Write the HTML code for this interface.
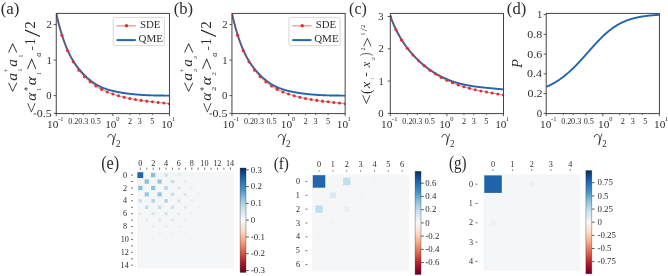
<!DOCTYPE html>
<html><head><meta charset="utf-8"><style>
html,body{margin:0;padding:0;background:#fff;}
svg{display:block;}
text{font-family:"Liberation Serif", serif;}
</style></head><body>
<svg xmlns="http://www.w3.org/2000/svg" width="668" height="276" viewBox="0 0 668 276" style="will-change:transform">
<rect width="668" height="276" fill="#fff"/>
<text font-size="10.0" fill="#2c2c2c" transform="matrix(1.69280,0,0,1.74251,0.656,14.490)">(a)</text>
<text font-size="10.0" fill="#2c2c2c" transform="matrix(1.66029,0,0,1.74251,173.670,14.490)">(b)</text>
<text font-size="10.0" fill="#2c2c2c" transform="matrix(1.59495,0,0,1.74251,349.099,14.490)">(c)</text>
<text font-size="10.0" fill="#2c2c2c" transform="matrix(1.66029,0,0,1.74251,506.870,14.490)">(d)</text>
<clipPath id="c56"><rect x="56.25" y="13.40" width="113.20" height="100.20"/></clipPath><g clip-path="url(#c56)">
<path d="M56.40,14.23 L56.97,16.64 L57.54,18.98 L58.10,21.25 L58.67,23.45 L59.24,25.59 L59.81,27.65 L60.37,29.65 L60.94,31.59 L61.51,33.47 L62.08,35.29 L62.65,37.05 L63.21,38.75 L63.78,40.39 L64.35,41.98 L64.92,43.52 L65.49,45.01 L66.05,46.45 L66.62,47.83 L67.19,49.18 L67.76,50.47 L68.32,51.73 L68.89,52.94 L69.46,54.11 L70.03,55.24 L70.60,56.33 L71.16,57.39 L71.73,58.41 L72.30,59.40 L72.87,60.36 L73.44,61.28 L74.00,62.18 L74.57,63.05 L75.14,63.89 L75.71,64.71 L76.27,65.51 L76.84,66.28 L77.41,67.04 L77.98,67.78 L78.55,68.50 L79.11,69.20 L79.68,69.89 L80.25,70.57 L80.82,71.23 L81.38,71.88 L81.95,72.51 L82.52,73.13 L83.09,73.74 L83.66,74.34 L84.22,74.92 L84.79,75.49 L85.36,76.04 L85.93,76.59 L86.50,77.12 L87.06,77.64 L87.63,78.14 L88.20,78.64 L88.77,79.12 L89.33,79.59 L89.90,80.05 L90.47,80.50 L91.04,80.94 L91.61,81.36 L92.17,81.78 L92.74,82.18 L93.31,82.57 L93.88,82.96 L94.45,83.33 L95.01,83.69 L95.58,84.05 L96.15,84.39 L96.72,84.72 L97.28,85.05 L97.85,85.36 L98.42,85.67 L98.99,85.96 L99.56,86.25 L100.12,86.53 L100.69,86.80 L101.26,87.06 L101.83,87.32 L102.39,87.56 L102.96,87.80 L103.53,88.03 L104.10,88.26 L104.67,88.48 L105.23,88.69 L105.80,88.89 L106.37,89.09 L106.94,89.28 L107.51,89.47 L108.07,89.65 L108.64,89.82 L109.21,89.99 L109.78,90.15 L110.34,90.31 L110.91,90.46 L111.48,90.61 L112.05,90.75 L112.62,90.89 L113.18,91.03 L113.75,91.16 L114.32,91.29 L114.89,91.41 L115.46,91.53 L116.02,91.65 L116.59,91.76 L117.16,91.87 L117.73,91.98 L118.29,92.09 L118.86,92.19 L119.43,92.30 L120.00,92.40 L120.57,92.49 L121.13,92.59 L121.70,92.69 L122.27,92.78 L122.84,92.87 L123.41,92.96 L123.97,93.04 L124.54,93.13 L125.11,93.21 L125.68,93.29 L126.24,93.37 L126.81,93.45 L127.38,93.52 L127.95,93.60 L128.52,93.67 L129.08,93.74 L129.65,93.81 L130.22,93.87 L130.79,93.94 L131.35,94.00 L131.92,94.07 L132.49,94.13 L133.06,94.18 L133.63,94.24 L134.19,94.30 L134.76,94.35 L135.33,94.41 L135.90,94.46 L136.47,94.51 L137.03,94.55 L137.60,94.60 L138.17,94.65 L138.74,94.69 L139.30,94.73 L139.87,94.78 L140.44,94.82 L141.01,94.86 L141.58,94.89 L142.14,94.93 L142.71,94.96 L143.28,95.00 L143.85,95.03 L144.42,95.06 L144.98,95.09 L145.55,95.12 L146.12,95.15 L146.69,95.18 L147.25,95.20 L147.82,95.23 L148.39,95.25 L148.96,95.28 L149.53,95.30 L150.09,95.32 L150.66,95.34 L151.23,95.36 L151.80,95.37 L152.36,95.39 L152.93,95.41 L153.50,95.42 L154.07,95.44 L154.64,95.45 L155.20,95.46 L155.77,95.48 L156.34,95.49 L156.91,95.50 L157.48,95.51 L158.04,95.52 L158.61,95.53 L159.18,95.53 L159.75,95.54 L160.31,95.55 L160.88,95.55 L161.45,95.56 L162.02,95.56 L162.59,95.57 L163.15,95.57 L163.72,95.57 L164.29,95.58 L164.86,95.58 L165.43,95.58 L165.99,95.58 L166.56,95.58 L167.13,95.58 L167.70,95.58 L168.26,95.58 L168.83,95.58 L169.40,95.58" fill="none" stroke="#2166ac" stroke-width="1.9" stroke-linejoin="round" stroke-linecap="butt" />
<path d="M56.25,13.47 L56.82,16.01 L57.39,18.48 L57.96,20.86 L58.53,23.16 L59.09,25.39 L59.66,27.54 L60.23,29.62 L60.80,31.62 L61.37,33.56 L61.94,35.44 L62.51,37.24 L63.08,38.99 L63.64,40.67 L64.21,42.30 L64.78,43.87 L65.35,45.38 L65.92,46.84 L66.49,48.25 L67.06,49.62 L67.63,50.93 L68.20,52.20 L68.76,53.43 L69.33,54.62 L69.90,55.77 L70.47,56.88 L71.04,57.96 L71.61,59.01 L72.18,60.02 L72.75,61.01 L73.32,61.97 L73.88,62.91 L74.45,63.82 L75.02,64.71 L75.59,65.57 L76.16,66.41 L76.73,67.23 L77.30,68.03 L77.87,68.81 L78.43,69.57 L79.00,70.31 L79.57,71.03 L80.14,71.74 L80.71,72.42 L81.28,73.09 L81.85,73.75 L82.42,74.39 L82.99,75.01 L83.55,75.62 L84.12,76.22 L84.69,76.80 L85.26,77.38 L85.83,77.94 L86.40,78.48 L86.97,79.02 L87.54,79.55 L88.11,80.06 L88.67,80.56 L89.24,81.05 L89.81,81.53 L90.38,82.00 L90.95,82.46 L91.52,82.91 L92.09,83.35 L92.66,83.78 L93.22,84.20 L93.79,84.61 L94.36,85.01 L94.93,85.40 L95.50,85.78 L96.07,86.16 L96.64,86.52 L97.21,86.88 L97.78,87.23 L98.34,87.57 L98.91,87.90 L99.48,88.22 L100.05,88.54 L100.62,88.85 L101.19,89.15 L101.76,89.45 L102.33,89.74 L102.90,90.02 L103.46,90.29 L104.03,90.56 L104.60,90.83 L105.17,91.08 L105.74,91.33 L106.31,91.58 L106.88,91.82 L107.45,92.05 L108.01,92.28 L108.58,92.51 L109.15,92.73 L109.72,92.95 L110.29,93.16 L110.86,93.37 L111.43,93.57 L112.00,93.77 L112.57,93.97 L113.13,94.16 L113.70,94.35 L114.27,94.53 L114.84,94.72 L115.41,94.90 L115.98,95.07 L116.55,95.25 L117.12,95.42 L117.69,95.59 L118.25,95.75 L118.82,95.91 L119.39,96.07 L119.96,96.23 L120.53,96.38 L121.10,96.53 L121.67,96.68 L122.24,96.82 L122.80,96.96 L123.37,97.10 L123.94,97.24 L124.51,97.37 L125.08,97.51 L125.65,97.64 L126.22,97.76 L126.79,97.89 L127.36,98.01 L127.92,98.13 L128.49,98.25 L129.06,98.37 L129.63,98.48 L130.20,98.59 L130.77,98.70 L131.34,98.81 L131.91,98.92 L132.48,99.02 L133.04,99.12 L133.61,99.22 L134.18,99.32 L134.75,99.42 L135.32,99.51 L135.89,99.61 L136.46,99.70 L137.03,99.79 L137.59,99.88 L138.16,99.96 L138.73,100.05 L139.30,100.13 L139.87,100.22 L140.44,100.30 L141.01,100.38 L141.58,100.46 L142.15,100.54 L142.71,100.61 L143.28,100.69 L143.85,100.76 L144.42,100.84 L144.99,100.91 L145.56,100.98 L146.13,101.05 L146.70,101.12 L147.27,101.19 L147.83,101.26 L148.40,101.33 L148.97,101.40 L149.54,101.46 L150.11,101.53 L150.68,101.60 L151.25,101.66 L151.82,101.73 L152.38,101.79 L152.95,101.85 L153.52,101.92 L154.09,101.98 L154.66,102.04 L155.23,102.11 L155.80,102.17 L156.37,102.23 L156.94,102.30 L157.50,102.36 L158.07,102.42 L158.64,102.48 L159.21,102.55 L159.78,102.61 L160.35,102.67 L160.92,102.74 L161.49,102.80 L162.06,102.86 L162.62,102.93 L163.19,102.99 L163.76,103.06 L164.33,103.12 L164.90,103.19 L165.47,103.26 L166.04,103.33 L166.61,103.39 L167.17,103.46 L167.74,103.53 L168.31,103.60 L168.88,103.68 L169.45,103.75" fill="none" stroke="#da3439" stroke-width="1.1" stroke-linejoin="round" stroke-linecap="butt" stroke-opacity="0.55"/>
<circle cx="56.25" cy="13.47" r="1.55" fill="#da3439"/>
<circle cx="61.91" cy="35.34" r="1.55" fill="#da3439"/>
<circle cx="67.57" cy="50.80" r="1.55" fill="#da3439"/>
<circle cx="73.23" cy="61.83" r="1.55" fill="#da3439"/>
<circle cx="78.89" cy="70.17" r="1.55" fill="#da3439"/>
<circle cx="84.55" cy="76.66" r="1.55" fill="#da3439"/>
<circle cx="90.21" cy="81.86" r="1.55" fill="#da3439"/>
<circle cx="95.87" cy="86.03" r="1.55" fill="#da3439"/>
<circle cx="101.53" cy="89.33" r="1.55" fill="#da3439"/>
<circle cx="107.19" cy="91.95" r="1.55" fill="#da3439"/>
<circle cx="112.85" cy="94.06" r="1.55" fill="#da3439"/>
<circle cx="118.51" cy="95.82" r="1.55" fill="#da3439"/>
<circle cx="124.17" cy="97.29" r="1.55" fill="#da3439"/>
<circle cx="129.83" cy="98.52" r="1.55" fill="#da3439"/>
<circle cx="135.49" cy="99.54" r="1.55" fill="#da3439"/>
<circle cx="141.15" cy="100.40" r="1.55" fill="#da3439"/>
<circle cx="146.81" cy="101.14" r="1.55" fill="#da3439"/>
<circle cx="152.47" cy="101.80" r="1.55" fill="#da3439"/>
<circle cx="158.13" cy="102.43" r="1.55" fill="#da3439"/>
<circle cx="163.79" cy="103.06" r="1.55" fill="#da3439"/>
<circle cx="169.45" cy="103.75" r="1.55" fill="#da3439"/>
</g>
<rect x="56.25" y="13.40" width="113.20" height="100.20" fill="none" stroke="#3c3c3c" stroke-width="0.95"/>
<line x1="56.25" y1="113.60" x2="56.25" y2="116.20" stroke="#3c3c3c" stroke-width="0.85" />
<line x1="112.85" y1="113.60" x2="112.85" y2="116.20" stroke="#3c3c3c" stroke-width="0.85" />
<line x1="169.45" y1="113.60" x2="169.45" y2="116.20" stroke="#3c3c3c" stroke-width="0.85" />
<line x1="73.29" y1="113.60" x2="73.29" y2="115.20" stroke="#3c3c3c" stroke-width="0.7" />
<line x1="83.26" y1="113.60" x2="83.26" y2="115.20" stroke="#3c3c3c" stroke-width="0.7" />
<line x1="95.81" y1="113.60" x2="95.81" y2="115.20" stroke="#3c3c3c" stroke-width="0.7" />
<line x1="129.89" y1="113.60" x2="129.89" y2="115.20" stroke="#3c3c3c" stroke-width="0.7" />
<line x1="139.86" y1="113.60" x2="139.86" y2="115.20" stroke="#3c3c3c" stroke-width="0.7" />
<line x1="152.41" y1="113.60" x2="152.41" y2="115.20" stroke="#3c3c3c" stroke-width="0.7" />
<text x="47.057" y="128.000" font-size="11.3" fill="#2c2c2c">10</text>
<text x="58.009" y="121.200" font-size="6.5" fill="#2c2c2c">-</text>
<text x="60.179" y="121.200" font-size="6.5" fill="#2c2c2c">1</text>
<text x="105.157" y="128.000" font-size="11.3" fill="#2c2c2c">10</text>
<text x="116.202" y="121.200" font-size="6.5" fill="#2c2c2c">0</text>
<text x="161.157" y="128.000" font-size="11.3" fill="#2c2c2c">10</text>
<text x="171.879" y="121.200" font-size="6.5" fill="#2c2c2c">1</text>
<text font-size="7.4" fill="#2c2c2c" transform="matrix(1.1,0,0,1,68.270,123.500)">0.2</text>
<text font-size="7.4" fill="#2c2c2c" transform="matrix(1.1,0,0,1,78.172,123.500)">0.3</text>
<text font-size="7.4" fill="#2c2c2c" transform="matrix(1.1,0,0,1,90.728,123.500)">0.5</text>
<text font-size="7.4" fill="#2c2c2c" transform="matrix(1.1,0,0,1,127.899,123.500)">2</text>
<text font-size="7.4" fill="#2c2c2c" transform="matrix(1.1,0,0,1,137.784,123.500)">3</text>
<text font-size="7.4" fill="#2c2c2c" transform="matrix(1.1,0,0,1,150.299,123.500)">5</text>
<line x1="53.65" y1="24.60" x2="56.25" y2="24.60" stroke="#3c3c3c" stroke-width="0.85" />
<text x="46.490" y="28.200" font-size="10.7" fill="#2c2c2c">2</text>
<line x1="53.65" y1="60.10" x2="56.25" y2="60.10" stroke="#3c3c3c" stroke-width="0.85" />
<text x="46.543" y="63.700" font-size="10.7" fill="#2c2c2c">1</text>
<line x1="53.65" y1="95.60" x2="56.25" y2="95.60" stroke="#3c3c3c" stroke-width="0.85" />
<text x="46.308" y="99.200" font-size="10.7" fill="#2c2c2c">0</text>
<line x1="53.65" y1="113.35" x2="56.25" y2="113.35" stroke="#3c3c3c" stroke-width="0.85" />
<text font-size="10.7" fill="#2c2c2c" transform="matrix(1.12,0,0,1,36.738,116.950)">0.5</text>
<line x1="33.69" y1="113.95" x2="36.19" y2="113.95" stroke="#2c2c2c" stroke-width="0.9" />
<rect x="113.20" y="17.4" width="51.2" height="28.2" rx="1.5" fill="#fff" fill-opacity="0.8" stroke="#d3d3d3" stroke-width="0.9"/>
<line x1="116.60" y1="25.80" x2="135.80" y2="25.80" stroke="#da3439" stroke-width="1.5" stroke-opacity="0.45"/>
<circle cx="126.50" cy="25.8" r="1.7" fill="#da3439"/>
<line x1="116.60" y1="40.10" x2="135.80" y2="40.10" stroke="#2166ac" stroke-width="2.0" />
<text font-size="10.0" fill="#2c2c2c" transform="matrix(1.08324,0,0,0.93767,139.975,28.108)">SDE</text>
<text font-size="10.0" fill="#2c2c2c" transform="matrix(1.10259,0,0,0.98275,138.448,42.107)">QME</text>
<text font-size="10.0" fill="#2c2c2c" transform="matrix(0,-1.95559,1.82413,0,18.857,92.774)">&lt;</text>
<text font-size="10.0" font-style="italic" fill="#2c2c2c" transform="matrix(0,-1.57183,1.41385,0,16.655,80.668)">a</text>
<text font-size="10.0" fill="#2c2c2c" transform="matrix(0,-0.70699,0.64116,0,8.349,72.517)">†</text>
<text font-size="10.0" fill="#2c2c2c" transform="matrix(0,-0.59650,0.59077,0,22.450,71.474)">1</text>
<text font-size="10.0" font-style="italic" fill="#2c2c2c" transform="matrix(0,-1.52560,1.41385,0,16.655,66.854)">a</text>
<text font-size="10.0" fill="#2c2c2c" transform="matrix(0,-0.53969,0.59077,0,22.550,57.624)">1</text>
<text font-size="10.0" fill="#2c2c2c" transform="matrix(0,-1.97708,1.84486,0,19.076,53.604)">&gt;</text>
<text font-size="10.0" fill="#2c2c2c" transform="matrix(0,-1.93410,1.74121,0,37.481,113.163)">&lt;</text>
<text font-size="10.0" font-style="italic" fill="#2c2c2c" transform="matrix(0,-1.54382,1.41098,0,35.755,100.760)">α</text>
<text font-size="10.0" fill="#2c2c2c" transform="matrix(0,-0.74383,1.09081,0,30.842,90.863)">*</text>
<text font-size="10.0" fill="#2c2c2c" transform="matrix(0,-0.53969,0.60592,0,41.450,90.724)">1</text>
<text font-size="10.0" font-style="italic" fill="#2c2c2c" transform="matrix(0,-1.62198,1.41098,0,35.655,85.283)">α</text>
<text font-size="10.0" fill="#2c2c2c" transform="matrix(0,-0.53969,0.62107,0,41.450,75.024)">1</text>
<text font-size="10.0" fill="#2c2c2c" transform="matrix(0,-2.25645,1.78267,0,37.719,70.346)">&gt;</text>
<text font-size="10.0" font-style="italic" fill="#2c2c2c" transform="matrix(0,-0.78168,0.82999,0,41.315,56.733)">α</text>
<text font-size="10.0" fill="#2c2c2c" transform="matrix(0,-1.30887,1.07085,0,34.973,50.536)">-</text>
<text font-size="10.0" fill="#2c2c2c" transform="matrix(0,-1.33503,1.36331,0,35.100,45.073)">1</text>
<text font-size="10.0" fill="#2c2c2c" transform="matrix(0,-2.77146,2.37688,0,39.868,37.100)">/</text>
<text font-size="10.0" fill="#2c2c2c" transform="matrix(0,-1.49671,1.35929,0,35.100,28.758)">2</text>
<clipPath id="c231"><rect x="231.95" y="13.40" width="113.20" height="100.20"/></clipPath><g clip-path="url(#c231)">
<path d="M232.10,14.23 L232.67,16.64 L233.24,18.98 L233.80,21.25 L234.37,23.45 L234.94,25.59 L235.51,27.65 L236.07,29.65 L236.64,31.59 L237.21,33.47 L237.78,35.29 L238.35,37.05 L238.91,38.75 L239.48,40.39 L240.05,41.98 L240.62,43.52 L241.19,45.01 L241.75,46.45 L242.32,47.83 L242.89,49.18 L243.46,50.47 L244.02,51.73 L244.59,52.94 L245.16,54.11 L245.73,55.24 L246.30,56.33 L246.86,57.39 L247.43,58.41 L248.00,59.40 L248.57,60.36 L249.14,61.28 L249.70,62.18 L250.27,63.05 L250.84,63.89 L251.41,64.71 L251.97,65.51 L252.54,66.28 L253.11,67.04 L253.68,67.78 L254.25,68.50 L254.81,69.20 L255.38,69.89 L255.95,70.57 L256.52,71.23 L257.08,71.88 L257.65,72.51 L258.22,73.13 L258.79,73.74 L259.36,74.34 L259.92,74.92 L260.49,75.49 L261.06,76.04 L261.63,76.59 L262.20,77.12 L262.76,77.64 L263.33,78.14 L263.90,78.64 L264.47,79.12 L265.03,79.59 L265.60,80.05 L266.17,80.50 L266.74,80.94 L267.31,81.36 L267.87,81.78 L268.44,82.18 L269.01,82.57 L269.58,82.96 L270.15,83.33 L270.71,83.69 L271.28,84.05 L271.85,84.39 L272.42,84.72 L272.98,85.05 L273.55,85.36 L274.12,85.67 L274.69,85.96 L275.26,86.25 L275.82,86.53 L276.39,86.80 L276.96,87.06 L277.53,87.32 L278.09,87.56 L278.66,87.80 L279.23,88.03 L279.80,88.26 L280.37,88.48 L280.93,88.69 L281.50,88.89 L282.07,89.09 L282.64,89.28 L283.21,89.47 L283.77,89.65 L284.34,89.82 L284.91,89.99 L285.48,90.15 L286.04,90.31 L286.61,90.46 L287.18,90.61 L287.75,90.75 L288.32,90.89 L288.88,91.03 L289.45,91.16 L290.02,91.29 L290.59,91.41 L291.16,91.53 L291.72,91.65 L292.29,91.76 L292.86,91.87 L293.43,91.98 L293.99,92.09 L294.56,92.19 L295.13,92.30 L295.70,92.40 L296.27,92.49 L296.83,92.59 L297.40,92.69 L297.97,92.78 L298.54,92.87 L299.11,92.96 L299.67,93.04 L300.24,93.13 L300.81,93.21 L301.38,93.29 L301.94,93.37 L302.51,93.45 L303.08,93.52 L303.65,93.60 L304.22,93.67 L304.78,93.74 L305.35,93.81 L305.92,93.87 L306.49,93.94 L307.05,94.00 L307.62,94.07 L308.19,94.13 L308.76,94.18 L309.33,94.24 L309.89,94.30 L310.46,94.35 L311.03,94.41 L311.60,94.46 L312.17,94.51 L312.73,94.55 L313.30,94.60 L313.87,94.65 L314.44,94.69 L315.00,94.73 L315.57,94.78 L316.14,94.82 L316.71,94.86 L317.28,94.89 L317.84,94.93 L318.41,94.96 L318.98,95.00 L319.55,95.03 L320.12,95.06 L320.68,95.09 L321.25,95.12 L321.82,95.15 L322.39,95.18 L322.95,95.20 L323.52,95.23 L324.09,95.25 L324.66,95.28 L325.23,95.30 L325.79,95.32 L326.36,95.34 L326.93,95.36 L327.50,95.37 L328.06,95.39 L328.63,95.41 L329.20,95.42 L329.77,95.44 L330.34,95.45 L330.90,95.46 L331.47,95.48 L332.04,95.49 L332.61,95.50 L333.18,95.51 L333.74,95.52 L334.31,95.53 L334.88,95.53 L335.45,95.54 L336.01,95.55 L336.58,95.55 L337.15,95.56 L337.72,95.56 L338.29,95.57 L338.85,95.57 L339.42,95.57 L339.99,95.58 L340.56,95.58 L341.13,95.58 L341.69,95.58 L342.26,95.58 L342.83,95.58 L343.40,95.58 L343.96,95.58 L344.53,95.58 L345.10,95.58" fill="none" stroke="#2166ac" stroke-width="1.9" stroke-linejoin="round" stroke-linecap="butt" />
<path d="M231.95,13.47 L232.52,16.01 L233.09,18.48 L233.66,20.86 L234.23,23.16 L234.79,25.39 L235.36,27.54 L235.93,29.62 L236.50,31.62 L237.07,33.56 L237.64,35.44 L238.21,37.24 L238.78,38.99 L239.34,40.67 L239.91,42.30 L240.48,43.87 L241.05,45.38 L241.62,46.84 L242.19,48.25 L242.76,49.62 L243.33,50.93 L243.90,52.20 L244.46,53.43 L245.03,54.62 L245.60,55.77 L246.17,56.88 L246.74,57.96 L247.31,59.01 L247.88,60.02 L248.45,61.01 L249.02,61.97 L249.58,62.91 L250.15,63.82 L250.72,64.71 L251.29,65.57 L251.86,66.41 L252.43,67.23 L253.00,68.03 L253.57,68.81 L254.13,69.57 L254.70,70.31 L255.27,71.03 L255.84,71.74 L256.41,72.42 L256.98,73.09 L257.55,73.75 L258.12,74.39 L258.69,75.01 L259.25,75.62 L259.82,76.22 L260.39,76.80 L260.96,77.38 L261.53,77.94 L262.10,78.48 L262.67,79.02 L263.24,79.55 L263.81,80.06 L264.37,80.56 L264.94,81.05 L265.51,81.53 L266.08,82.00 L266.65,82.46 L267.22,82.91 L267.79,83.35 L268.36,83.78 L268.92,84.20 L269.49,84.61 L270.06,85.01 L270.63,85.40 L271.20,85.78 L271.77,86.16 L272.34,86.52 L272.91,86.88 L273.48,87.23 L274.04,87.57 L274.61,87.90 L275.18,88.22 L275.75,88.54 L276.32,88.85 L276.89,89.15 L277.46,89.45 L278.03,89.74 L278.60,90.02 L279.16,90.29 L279.73,90.56 L280.30,90.83 L280.87,91.08 L281.44,91.33 L282.01,91.58 L282.58,91.82 L283.15,92.05 L283.71,92.28 L284.28,92.51 L284.85,92.73 L285.42,92.95 L285.99,93.16 L286.56,93.37 L287.13,93.57 L287.70,93.77 L288.27,93.97 L288.83,94.16 L289.40,94.35 L289.97,94.53 L290.54,94.72 L291.11,94.90 L291.68,95.07 L292.25,95.25 L292.82,95.42 L293.39,95.59 L293.95,95.75 L294.52,95.91 L295.09,96.07 L295.66,96.23 L296.23,96.38 L296.80,96.53 L297.37,96.68 L297.94,96.82 L298.50,96.96 L299.07,97.10 L299.64,97.24 L300.21,97.37 L300.78,97.51 L301.35,97.64 L301.92,97.76 L302.49,97.89 L303.06,98.01 L303.62,98.13 L304.19,98.25 L304.76,98.37 L305.33,98.48 L305.90,98.59 L306.47,98.70 L307.04,98.81 L307.61,98.92 L308.18,99.02 L308.74,99.12 L309.31,99.22 L309.88,99.32 L310.45,99.42 L311.02,99.51 L311.59,99.61 L312.16,99.70 L312.73,99.79 L313.29,99.88 L313.86,99.96 L314.43,100.05 L315.00,100.13 L315.57,100.22 L316.14,100.30 L316.71,100.38 L317.28,100.46 L317.85,100.54 L318.41,100.61 L318.98,100.69 L319.55,100.76 L320.12,100.84 L320.69,100.91 L321.26,100.98 L321.83,101.05 L322.40,101.12 L322.97,101.19 L323.53,101.26 L324.10,101.33 L324.67,101.40 L325.24,101.46 L325.81,101.53 L326.38,101.60 L326.95,101.66 L327.52,101.73 L328.08,101.79 L328.65,101.85 L329.22,101.92 L329.79,101.98 L330.36,102.04 L330.93,102.11 L331.50,102.17 L332.07,102.23 L332.64,102.30 L333.20,102.36 L333.77,102.42 L334.34,102.48 L334.91,102.55 L335.48,102.61 L336.05,102.67 L336.62,102.74 L337.19,102.80 L337.76,102.86 L338.32,102.93 L338.89,102.99 L339.46,103.06 L340.03,103.12 L340.60,103.19 L341.17,103.26 L341.74,103.33 L342.31,103.39 L342.87,103.46 L343.44,103.53 L344.01,103.60 L344.58,103.68 L345.15,103.75" fill="none" stroke="#da3439" stroke-width="1.1" stroke-linejoin="round" stroke-linecap="butt" stroke-opacity="0.55"/>
<circle cx="231.95" cy="13.47" r="1.55" fill="#da3439"/>
<circle cx="237.61" cy="35.34" r="1.55" fill="#da3439"/>
<circle cx="243.27" cy="50.80" r="1.55" fill="#da3439"/>
<circle cx="248.93" cy="61.83" r="1.55" fill="#da3439"/>
<circle cx="254.59" cy="70.17" r="1.55" fill="#da3439"/>
<circle cx="260.25" cy="76.66" r="1.55" fill="#da3439"/>
<circle cx="265.91" cy="81.86" r="1.55" fill="#da3439"/>
<circle cx="271.57" cy="86.03" r="1.55" fill="#da3439"/>
<circle cx="277.23" cy="89.33" r="1.55" fill="#da3439"/>
<circle cx="282.89" cy="91.95" r="1.55" fill="#da3439"/>
<circle cx="288.55" cy="94.06" r="1.55" fill="#da3439"/>
<circle cx="294.21" cy="95.82" r="1.55" fill="#da3439"/>
<circle cx="299.87" cy="97.29" r="1.55" fill="#da3439"/>
<circle cx="305.53" cy="98.52" r="1.55" fill="#da3439"/>
<circle cx="311.19" cy="99.54" r="1.55" fill="#da3439"/>
<circle cx="316.85" cy="100.40" r="1.55" fill="#da3439"/>
<circle cx="322.51" cy="101.14" r="1.55" fill="#da3439"/>
<circle cx="328.17" cy="101.80" r="1.55" fill="#da3439"/>
<circle cx="333.83" cy="102.43" r="1.55" fill="#da3439"/>
<circle cx="339.49" cy="103.06" r="1.55" fill="#da3439"/>
<circle cx="345.15" cy="103.75" r="1.55" fill="#da3439"/>
</g>
<rect x="231.95" y="13.40" width="113.20" height="100.20" fill="none" stroke="#3c3c3c" stroke-width="0.95"/>
<line x1="231.95" y1="113.60" x2="231.95" y2="116.20" stroke="#3c3c3c" stroke-width="0.85" />
<line x1="288.55" y1="113.60" x2="288.55" y2="116.20" stroke="#3c3c3c" stroke-width="0.85" />
<line x1="345.15" y1="113.60" x2="345.15" y2="116.20" stroke="#3c3c3c" stroke-width="0.85" />
<line x1="248.99" y1="113.60" x2="248.99" y2="115.20" stroke="#3c3c3c" stroke-width="0.7" />
<line x1="258.96" y1="113.60" x2="258.96" y2="115.20" stroke="#3c3c3c" stroke-width="0.7" />
<line x1="271.51" y1="113.60" x2="271.51" y2="115.20" stroke="#3c3c3c" stroke-width="0.7" />
<line x1="305.59" y1="113.60" x2="305.59" y2="115.20" stroke="#3c3c3c" stroke-width="0.7" />
<line x1="315.56" y1="113.60" x2="315.56" y2="115.20" stroke="#3c3c3c" stroke-width="0.7" />
<line x1="328.11" y1="113.60" x2="328.11" y2="115.20" stroke="#3c3c3c" stroke-width="0.7" />
<text x="222.757" y="128.000" font-size="11.3" fill="#2c2c2c">10</text>
<text x="233.709" y="121.200" font-size="6.5" fill="#2c2c2c">-</text>
<text x="235.879" y="121.200" font-size="6.5" fill="#2c2c2c">1</text>
<text x="280.857" y="128.000" font-size="11.3" fill="#2c2c2c">10</text>
<text x="291.902" y="121.200" font-size="6.5" fill="#2c2c2c">0</text>
<text x="336.857" y="128.000" font-size="11.3" fill="#2c2c2c">10</text>
<text x="347.579" y="121.200" font-size="6.5" fill="#2c2c2c">1</text>
<text font-size="7.4" fill="#2c2c2c" transform="matrix(1.1,0,0,1,243.970,123.500)">0.2</text>
<text font-size="7.4" fill="#2c2c2c" transform="matrix(1.1,0,0,1,253.872,123.500)">0.3</text>
<text font-size="7.4" fill="#2c2c2c" transform="matrix(1.1,0,0,1,266.428,123.500)">0.5</text>
<text font-size="7.4" fill="#2c2c2c" transform="matrix(1.1,0,0,1,303.599,123.500)">2</text>
<text font-size="7.4" fill="#2c2c2c" transform="matrix(1.1,0,0,1,313.484,123.500)">3</text>
<text font-size="7.4" fill="#2c2c2c" transform="matrix(1.1,0,0,1,325.999,123.500)">5</text>
<line x1="229.35" y1="24.60" x2="231.95" y2="24.60" stroke="#3c3c3c" stroke-width="0.85" />
<text x="222.190" y="28.200" font-size="10.7" fill="#2c2c2c">2</text>
<line x1="229.35" y1="60.10" x2="231.95" y2="60.10" stroke="#3c3c3c" stroke-width="0.85" />
<text x="222.243" y="63.700" font-size="10.7" fill="#2c2c2c">1</text>
<line x1="229.35" y1="95.60" x2="231.95" y2="95.60" stroke="#3c3c3c" stroke-width="0.85" />
<text x="222.008" y="99.200" font-size="10.7" fill="#2c2c2c">0</text>
<line x1="229.35" y1="113.35" x2="231.95" y2="113.35" stroke="#3c3c3c" stroke-width="0.85" />
<text font-size="10.7" fill="#2c2c2c" transform="matrix(1.12,0,0,1,212.438,116.950)">0.5</text>
<line x1="209.39" y1="113.95" x2="211.89" y2="113.95" stroke="#2c2c2c" stroke-width="0.9" />
<rect x="288.90" y="17.4" width="51.2" height="28.2" rx="1.5" fill="#fff" fill-opacity="0.8" stroke="#d3d3d3" stroke-width="0.9"/>
<line x1="292.30" y1="25.80" x2="311.50" y2="25.80" stroke="#da3439" stroke-width="1.5" stroke-opacity="0.45"/>
<circle cx="302.20" cy="25.8" r="1.7" fill="#da3439"/>
<line x1="292.30" y1="40.10" x2="311.50" y2="40.10" stroke="#2166ac" stroke-width="2.0" />
<text font-size="10.0" fill="#2c2c2c" transform="matrix(1.08324,0,0,0.93767,315.675,28.108)">SDE</text>
<text font-size="10.0" fill="#2c2c2c" transform="matrix(1.10259,0,0,0.98275,314.148,42.107)">QME</text>
<text font-size="10.0" fill="#2c2c2c" transform="matrix(0,-1.95559,1.82413,0,194.557,92.774)">&lt;</text>
<text font-size="10.0" font-style="italic" fill="#2c2c2c" transform="matrix(0,-1.57183,1.41385,0,192.355,80.668)">a</text>
<text font-size="10.0" fill="#2c2c2c" transform="matrix(0,-0.70699,0.64116,0,184.049,72.517)">†</text>
<text font-size="10.0" fill="#2c2c2c" transform="matrix(0,-0.74836,0.45310,0,196.600,72.129)">2</text>
<text font-size="10.0" font-style="italic" fill="#2c2c2c" transform="matrix(0,-1.52560,1.41385,0,192.355,66.854)">a</text>
<text font-size="10.0" fill="#2c2c2c" transform="matrix(0,-0.72341,0.45310,0,196.600,59.318)">2</text>
<text font-size="10.0" fill="#2c2c2c" transform="matrix(0,-1.97708,1.84486,0,194.776,53.604)">&gt;</text>
<text font-size="10.0" fill="#2c2c2c" transform="matrix(0,-1.93410,1.74121,0,213.181,113.163)">&lt;</text>
<text font-size="10.0" font-style="italic" fill="#2c2c2c" transform="matrix(0,-1.54382,1.41098,0,211.455,100.760)">α</text>
<text font-size="10.0" fill="#2c2c2c" transform="matrix(0,-0.74383,1.09081,0,206.542,90.863)">*</text>
<text font-size="10.0" fill="#2c2c2c" transform="matrix(0,-0.82319,0.57392,0,216.300,90.862)">2</text>
<text font-size="10.0" font-style="italic" fill="#2c2c2c" transform="matrix(0,-1.62198,1.41098,0,211.355,85.283)">α</text>
<text font-size="10.0" fill="#2c2c2c" transform="matrix(0,-0.67352,0.57392,0,216.300,75.496)">2</text>
<text font-size="10.0" fill="#2c2c2c" transform="matrix(0,-2.25645,1.78267,0,213.419,70.346)">&gt;</text>
<text font-size="10.0" font-style="italic" fill="#2c2c2c" transform="matrix(0,-0.78168,0.82999,0,217.015,56.733)">α</text>
<text font-size="10.0" fill="#2c2c2c" transform="matrix(0,-1.30887,1.07085,0,210.673,50.536)">-</text>
<text font-size="10.0" fill="#2c2c2c" transform="matrix(0,-1.33503,1.36331,0,210.800,45.073)">1</text>
<text font-size="10.0" fill="#2c2c2c" transform="matrix(0,-2.77146,2.37688,0,215.568,37.100)">/</text>
<text font-size="10.0" fill="#2c2c2c" transform="matrix(0,-1.49671,1.35929,0,210.800,28.758)">2</text>
<clipPath id="c390"><rect x="390.30" y="13.40" width="113.20" height="100.20"/></clipPath><g clip-path="url(#c390)">
<path d="M390.60,16.94 L391.17,18.41 L391.74,19.85 L392.30,21.26 L392.87,22.63 L393.44,23.96 L394.01,25.26 L394.57,26.52 L395.14,27.76 L395.71,28.96 L396.28,30.13 L396.85,31.27 L397.41,32.38 L397.98,33.47 L398.55,34.53 L399.12,35.56 L399.69,36.56 L400.25,37.54 L400.82,38.50 L401.39,39.44 L401.96,40.35 L402.52,41.24 L403.09,42.11 L403.66,42.96 L404.23,43.79 L404.80,44.61 L405.36,45.41 L405.93,46.19 L406.50,46.95 L407.07,47.71 L407.64,48.45 L408.20,49.17 L408.77,49.88 L409.34,50.59 L409.91,51.28 L410.47,51.95 L411.04,52.62 L411.61,53.27 L412.18,53.92 L412.75,54.55 L413.31,55.18 L413.88,55.79 L414.45,56.39 L415.02,56.99 L415.58,57.57 L416.15,58.15 L416.72,58.71 L417.29,59.27 L417.86,59.82 L418.42,60.37 L418.99,60.90 L419.56,61.43 L420.13,61.95 L420.70,62.46 L421.26,62.97 L421.83,63.46 L422.40,63.96 L422.97,64.44 L423.53,64.92 L424.10,65.39 L424.67,65.85 L425.24,66.31 L425.81,66.76 L426.37,67.20 L426.94,67.64 L427.51,68.07 L428.08,68.49 L428.65,68.91 L429.21,69.32 L429.78,69.72 L430.35,70.12 L430.92,70.51 L431.48,70.89 L432.05,71.27 L432.62,71.65 L433.19,72.01 L433.76,72.37 L434.32,72.73 L434.89,73.08 L435.46,73.42 L436.03,73.76 L436.59,74.09 L437.16,74.42 L437.73,74.74 L438.30,75.06 L438.87,75.37 L439.43,75.67 L440.00,75.97 L440.57,76.26 L441.14,76.55 L441.71,76.84 L442.27,77.12 L442.84,77.39 L443.41,77.66 L443.98,77.92 L444.54,78.18 L445.11,78.44 L445.68,78.69 L446.25,78.93 L446.82,79.17 L447.38,79.41 L447.95,79.64 L448.52,79.87 L449.09,80.09 L449.66,80.31 L450.22,80.52 L450.79,80.73 L451.36,80.93 L451.93,81.14 L452.49,81.33 L453.06,81.53 L453.63,81.72 L454.20,81.90 L454.77,82.08 L455.33,82.26 L455.90,82.43 L456.47,82.60 L457.04,82.77 L457.61,82.93 L458.17,83.09 L458.74,83.25 L459.31,83.40 L459.88,83.55 L460.44,83.70 L461.01,83.84 L461.58,83.98 L462.15,84.12 L462.72,84.25 L463.28,84.38 L463.85,84.51 L464.42,84.63 L464.99,84.76 L465.55,84.88 L466.12,84.99 L466.69,85.11 L467.26,85.22 L467.83,85.33 L468.39,85.43 L468.96,85.54 L469.53,85.64 L470.10,85.74 L470.67,85.83 L471.23,85.93 L471.80,86.02 L472.37,86.11 L472.94,86.20 L473.50,86.28 L474.07,86.37 L474.64,86.45 L475.21,86.53 L475.78,86.61 L476.34,86.68 L476.91,86.76 L477.48,86.83 L478.05,86.91 L478.62,86.98 L479.18,87.05 L479.75,87.11 L480.32,87.18 L480.89,87.24 L481.45,87.31 L482.02,87.37 L482.59,87.43 L483.16,87.49 L483.73,87.55 L484.29,87.61 L484.86,87.67 L485.43,87.73 L486.00,87.78 L486.56,87.84 L487.13,87.89 L487.70,87.95 L488.27,88.00 L488.84,88.05 L489.40,88.11 L489.97,88.16 L490.54,88.21 L491.11,88.26 L491.68,88.31 L492.24,88.36 L492.81,88.42 L493.38,88.47 L493.95,88.52 L494.51,88.57 L495.08,88.62 L495.65,88.67 L496.22,88.72 L496.79,88.78 L497.35,88.83 L497.92,88.88 L498.49,88.93 L499.06,88.99 L499.63,89.04 L500.19,89.10 L500.76,89.15 L501.33,89.21 L501.90,89.26 L502.46,89.32 L503.03,89.38 L503.60,89.44" fill="none" stroke="#2166ac" stroke-width="1.9" stroke-linejoin="round" stroke-linecap="butt" />
<path d="M390.30,16.29 L390.87,17.82 L391.44,19.31 L392.01,20.76 L392.58,22.17 L393.14,23.55 L393.71,24.88 L394.28,26.18 L394.85,27.45 L395.42,28.68 L395.99,29.87 L396.56,31.04 L397.13,32.17 L397.69,33.28 L398.26,34.35 L398.83,35.40 L399.40,36.42 L399.97,37.41 L400.54,38.38 L401.11,39.32 L401.68,40.25 L402.25,41.14 L402.81,42.02 L403.38,42.88 L403.95,43.71 L404.52,44.53 L405.09,45.33 L405.66,46.11 L406.23,46.88 L406.80,47.64 L407.37,48.38 L407.93,49.10 L408.50,49.82 L409.07,50.52 L409.64,51.22 L410.21,51.90 L410.78,52.57 L411.35,53.23 L411.92,53.87 L412.48,54.51 L413.05,55.14 L413.62,55.76 L414.19,56.37 L414.76,56.97 L415.33,57.56 L415.90,58.14 L416.47,58.71 L417.04,59.28 L417.60,59.84 L418.17,60.39 L418.74,60.93 L419.31,61.47 L419.88,61.99 L420.45,62.52 L421.02,63.03 L421.59,63.54 L422.16,64.04 L422.72,64.53 L423.29,65.02 L423.86,65.50 L424.43,65.98 L425.00,66.45 L425.57,66.91 L426.14,67.36 L426.71,67.81 L427.27,68.26 L427.84,68.69 L428.41,69.13 L428.98,69.55 L429.55,69.97 L430.12,70.38 L430.69,70.79 L431.26,71.19 L431.83,71.59 L432.39,71.98 L432.96,72.37 L433.53,72.75 L434.10,73.12 L434.67,73.49 L435.24,73.85 L435.81,74.21 L436.38,74.57 L436.95,74.92 L437.51,75.26 L438.08,75.60 L438.65,75.93 L439.22,76.26 L439.79,76.58 L440.36,76.90 L440.93,77.22 L441.50,77.53 L442.06,77.84 L442.63,78.14 L443.20,78.43 L443.77,78.73 L444.34,79.02 L444.91,79.30 L445.48,79.58 L446.05,79.86 L446.62,80.13 L447.18,80.40 L447.75,80.66 L448.32,80.93 L448.89,81.18 L449.46,81.44 L450.03,81.69 L450.60,81.93 L451.17,82.17 L451.74,82.41 L452.30,82.65 L452.87,82.88 L453.44,83.11 L454.01,83.34 L454.58,83.56 L455.15,83.78 L455.72,83.99 L456.29,84.21 L456.85,84.41 L457.42,84.62 L457.99,84.82 L458.56,85.02 L459.13,85.22 L459.70,85.42 L460.27,85.61 L460.84,85.80 L461.41,85.98 L461.97,86.16 L462.54,86.34 L463.11,86.52 L463.68,86.70 L464.25,86.87 L464.82,87.04 L465.39,87.21 L465.96,87.37 L466.53,87.53 L467.09,87.69 L467.66,87.85 L468.23,88.01 L468.80,88.16 L469.37,88.31 L469.94,88.46 L470.51,88.61 L471.08,88.75 L471.64,88.89 L472.21,89.04 L472.78,89.17 L473.35,89.31 L473.92,89.45 L474.49,89.58 L475.06,89.71 L475.63,89.84 L476.20,89.97 L476.76,90.10 L477.33,90.22 L477.90,90.35 L478.47,90.47 L479.04,90.59 L479.61,90.71 L480.18,90.83 L480.75,90.94 L481.32,91.06 L481.88,91.17 L482.45,91.28 L483.02,91.40 L483.59,91.51 L484.16,91.62 L484.73,91.72 L485.30,91.83 L485.87,91.94 L486.43,92.04 L487.00,92.15 L487.57,92.25 L488.14,92.36 L488.71,92.46 L489.28,92.56 L489.85,92.66 L490.42,92.76 L490.99,92.86 L491.55,92.96 L492.12,93.06 L492.69,93.16 L493.26,93.26 L493.83,93.36 L494.40,93.46 L494.97,93.56 L495.54,93.65 L496.11,93.75 L496.67,93.85 L497.24,93.95 L497.81,94.04 L498.38,94.14 L498.95,94.24 L499.52,94.34 L500.09,94.43 L500.66,94.53 L501.22,94.63 L501.79,94.73 L502.36,94.83 L502.93,94.93 L503.50,95.03" fill="none" stroke="#da3439" stroke-width="1.1" stroke-linejoin="round" stroke-linecap="butt" stroke-opacity="0.55"/>
<circle cx="390.30" cy="16.29" r="1.55" fill="#da3439"/>
<circle cx="395.96" cy="29.82" r="1.55" fill="#da3439"/>
<circle cx="401.62" cy="40.15" r="1.55" fill="#da3439"/>
<circle cx="407.28" cy="48.27" r="1.55" fill="#da3439"/>
<circle cx="412.94" cy="55.02" r="1.55" fill="#da3439"/>
<circle cx="418.60" cy="60.80" r="1.55" fill="#da3439"/>
<circle cx="424.26" cy="65.84" r="1.55" fill="#da3439"/>
<circle cx="429.92" cy="70.24" r="1.55" fill="#da3439"/>
<circle cx="435.58" cy="74.07" r="1.55" fill="#da3439"/>
<circle cx="441.24" cy="77.39" r="1.55" fill="#da3439"/>
<circle cx="446.90" cy="80.27" r="1.55" fill="#da3439"/>
<circle cx="452.56" cy="82.75" r="1.55" fill="#da3439"/>
<circle cx="458.22" cy="84.90" r="1.55" fill="#da3439"/>
<circle cx="463.88" cy="86.76" r="1.55" fill="#da3439"/>
<circle cx="469.54" cy="88.36" r="1.55" fill="#da3439"/>
<circle cx="475.20" cy="89.74" r="1.55" fill="#da3439"/>
<circle cx="480.86" cy="90.97" r="1.55" fill="#da3439"/>
<circle cx="486.52" cy="92.06" r="1.55" fill="#da3439"/>
<circle cx="492.18" cy="93.07" r="1.55" fill="#da3439"/>
<circle cx="497.84" cy="94.05" r="1.55" fill="#da3439"/>
<circle cx="503.50" cy="95.03" r="1.55" fill="#da3439"/>
</g>
<rect x="390.30" y="13.40" width="113.20" height="100.20" fill="none" stroke="#3c3c3c" stroke-width="0.95"/>
<line x1="390.30" y1="113.60" x2="390.30" y2="116.20" stroke="#3c3c3c" stroke-width="0.85" />
<line x1="446.90" y1="113.60" x2="446.90" y2="116.20" stroke="#3c3c3c" stroke-width="0.85" />
<line x1="503.50" y1="113.60" x2="503.50" y2="116.20" stroke="#3c3c3c" stroke-width="0.85" />
<line x1="407.34" y1="113.60" x2="407.34" y2="115.20" stroke="#3c3c3c" stroke-width="0.7" />
<line x1="417.31" y1="113.60" x2="417.31" y2="115.20" stroke="#3c3c3c" stroke-width="0.7" />
<line x1="429.86" y1="113.60" x2="429.86" y2="115.20" stroke="#3c3c3c" stroke-width="0.7" />
<line x1="463.94" y1="113.60" x2="463.94" y2="115.20" stroke="#3c3c3c" stroke-width="0.7" />
<line x1="473.91" y1="113.60" x2="473.91" y2="115.20" stroke="#3c3c3c" stroke-width="0.7" />
<line x1="486.46" y1="113.60" x2="486.46" y2="115.20" stroke="#3c3c3c" stroke-width="0.7" />
<text x="381.107" y="128.000" font-size="11.3" fill="#2c2c2c">10</text>
<text x="392.059" y="121.200" font-size="6.5" fill="#2c2c2c">-</text>
<text x="394.229" y="121.200" font-size="6.5" fill="#2c2c2c">1</text>
<text x="439.207" y="128.000" font-size="11.3" fill="#2c2c2c">10</text>
<text x="450.252" y="121.200" font-size="6.5" fill="#2c2c2c">0</text>
<text x="495.207" y="128.000" font-size="11.3" fill="#2c2c2c">10</text>
<text x="505.929" y="121.200" font-size="6.5" fill="#2c2c2c">1</text>
<text font-size="7.4" fill="#2c2c2c" transform="matrix(1.1,0,0,1,402.320,123.500)">0.2</text>
<text font-size="7.4" fill="#2c2c2c" transform="matrix(1.1,0,0,1,412.222,123.500)">0.3</text>
<text font-size="7.4" fill="#2c2c2c" transform="matrix(1.1,0,0,1,424.778,123.500)">0.5</text>
<text font-size="7.4" fill="#2c2c2c" transform="matrix(1.1,0,0,1,461.949,123.500)">2</text>
<text font-size="7.4" fill="#2c2c2c" transform="matrix(1.1,0,0,1,471.834,123.500)">3</text>
<text font-size="7.4" fill="#2c2c2c" transform="matrix(1.1,0,0,1,484.349,123.500)">5</text>
<line x1="387.70" y1="113.40" x2="390.30" y2="113.40" stroke="#3c3c3c" stroke-width="0.85" />
<text x="378.358" y="117.000" font-size="10.7" fill="#2c2c2c">0</text>
<line x1="387.70" y1="81.10" x2="390.30" y2="81.10" stroke="#3c3c3c" stroke-width="0.85" />
<text x="378.593" y="84.700" font-size="10.7" fill="#2c2c2c">1</text>
<line x1="387.70" y1="48.80" x2="390.30" y2="48.80" stroke="#3c3c3c" stroke-width="0.85" />
<text x="378.540" y="52.400" font-size="10.7" fill="#2c2c2c">2</text>
<line x1="387.70" y1="16.50" x2="390.30" y2="16.50" stroke="#3c3c3c" stroke-width="0.85" />
<text x="378.368" y="20.100" font-size="10.7" fill="#2c2c2c">3</text>
<text font-size="10.0" fill="#2c2c2c" transform="matrix(0,-1.82665,1.61684,0,372.268,104.710)">&lt;</text>
<text font-size="10.0" fill="#2c2c2c" transform="matrix(0,-1.36274,1.54400,0,370.613,93.899)">(</text>
<text font-size="10.0" font-style="italic" fill="#2c2c2c" transform="matrix(0,-1.47082,1.30723,0,370.200,88.220)">x</text>
<text font-size="10.0" fill="#2c2c2c" transform="matrix(0,-0.42607,0.42414,0,374.150,79.724)">1</text>
<text font-size="10.0" fill="#2c2c2c" transform="matrix(0,-1.38586,1.20471,0,369.138,76.764)">-</text>
<text font-size="10.0" font-style="italic" fill="#2c2c2c" transform="matrix(0,-1.27025,1.24187,0,370.400,67.345)">x</text>
<text font-size="10.0" fill="#2c2c2c" transform="matrix(0,-0.74836,0.45310,0,374.800,60.829)">2</text>
<text font-size="10.0" fill="#2c2c2c" transform="matrix(0,-0.97338,1.40062,0,370.118,55.914)">)</text>
<text font-size="10.0" fill="#2c2c2c" transform="matrix(0,-0.59868,0.63434,0,365.100,50.463)">2</text>
<text font-size="10.0" fill="#2c2c2c" transform="matrix(0,-1.78367,1.72049,0,372.763,47.206)">&gt;</text>
<text font-size="10.0" fill="#2c2c2c" transform="matrix(0,-0.48288,0.54533,0,364.950,35.274)">1</text>
<text font-size="10.0" fill="#2c2c2c" transform="matrix(0,-1.11578,0.74745,0,366.527,31.300)">/</text>
<text font-size="10.0" fill="#2c2c2c" transform="matrix(0,-0.59868,0.57392,0,364.700,27.663)">2</text>
<clipPath id="c546"><rect x="546.20" y="13.40" width="113.20" height="100.20"/></clipPath><g clip-path="url(#c546)">
<path d="M546.20,87.00 L546.77,86.74 L547.34,86.48 L547.91,86.22 L548.48,85.95 L549.04,85.67 L549.61,85.39 L550.18,85.10 L550.75,84.81 L551.32,84.51 L551.89,84.21 L552.46,83.90 L553.03,83.58 L553.59,83.26 L554.16,82.93 L554.73,82.60 L555.30,82.26 L555.87,81.92 L556.44,81.56 L557.01,81.20 L557.58,80.84 L558.15,80.47 L558.71,80.09 L559.28,79.71 L559.85,79.31 L560.42,78.92 L560.99,78.51 L561.56,78.10 L562.13,77.68 L562.70,77.26 L563.27,76.83 L563.83,76.39 L564.40,75.94 L564.97,75.49 L565.54,75.03 L566.11,74.56 L566.68,74.09 L567.25,73.61 L567.82,73.12 L568.38,72.63 L568.95,72.13 L569.52,71.62 L570.09,71.11 L570.66,70.59 L571.23,70.06 L571.80,69.53 L572.37,68.99 L572.94,68.45 L573.50,67.89 L574.07,67.34 L574.64,66.77 L575.21,66.20 L575.78,65.63 L576.35,65.05 L576.92,64.46 L577.49,63.87 L578.06,63.27 L578.62,62.67 L579.19,62.06 L579.76,61.45 L580.33,60.84 L580.90,60.22 L581.47,59.60 L582.04,58.97 L582.61,58.34 L583.17,57.71 L583.74,57.08 L584.31,56.44 L584.88,55.80 L585.45,55.16 L586.02,54.52 L586.59,53.87 L587.16,53.23 L587.73,52.58 L588.29,51.94 L588.86,51.29 L589.43,50.65 L590.00,50.00 L590.57,49.36 L591.14,48.72 L591.71,48.07 L592.28,47.44 L592.85,46.80 L593.41,46.16 L593.98,45.53 L594.55,44.91 L595.12,44.28 L595.69,43.66 L596.26,43.04 L596.83,42.43 L597.40,41.83 L597.96,41.22 L598.53,40.63 L599.10,40.03 L599.67,39.45 L600.24,38.87 L600.81,38.30 L601.38,37.73 L601.95,37.17 L602.52,36.62 L603.08,36.07 L603.65,35.53 L604.22,35.00 L604.79,34.48 L605.36,33.96 L605.93,33.45 L606.50,32.96 L607.07,32.46 L607.64,31.98 L608.20,31.50 L608.77,31.04 L609.34,30.58 L609.91,30.13 L610.48,29.69 L611.05,29.26 L611.62,28.83 L612.19,28.42 L612.75,28.01 L613.32,27.61 L613.89,27.22 L614.46,26.84 L615.03,26.47 L615.60,26.10 L616.17,25.74 L616.74,25.40 L617.31,25.06 L617.87,24.72 L618.44,24.40 L619.01,24.09 L619.58,23.78 L620.15,23.48 L620.72,23.18 L621.29,22.90 L621.86,22.62 L622.43,22.35 L622.99,22.09 L623.56,21.83 L624.13,21.58 L624.70,21.34 L625.27,21.11 L625.84,20.88 L626.41,20.65 L626.98,20.44 L627.54,20.23 L628.11,20.02 L628.68,19.83 L629.25,19.63 L629.82,19.45 L630.39,19.27 L630.96,19.09 L631.53,18.92 L632.10,18.76 L632.66,18.60 L633.23,18.44 L633.80,18.29 L634.37,18.14 L634.94,18.00 L635.51,17.86 L636.08,17.73 L636.65,17.60 L637.22,17.48 L637.78,17.36 L638.35,17.24 L638.92,17.13 L639.49,17.02 L640.06,16.91 L640.63,16.81 L641.20,16.71 L641.77,16.62 L642.33,16.52 L642.90,16.43 L643.47,16.35 L644.04,16.26 L644.61,16.18 L645.18,16.10 L645.75,16.03 L646.32,15.95 L646.89,15.88 L647.45,15.81 L648.02,15.75 L648.59,15.68 L649.16,15.62 L649.73,15.56 L650.30,15.50 L650.87,15.45 L651.44,15.39 L652.01,15.34 L652.57,15.29 L653.14,15.24 L653.71,15.20 L654.28,15.15 L654.85,15.11 L655.42,15.06 L655.99,15.02 L656.56,14.98 L657.12,14.95 L657.69,14.91 L658.26,14.87 L658.83,14.84 L659.40,14.81" fill="none" stroke="#2166ac" stroke-width="1.9" stroke-linejoin="round" stroke-linecap="butt" />
</g>
<rect x="546.20" y="13.40" width="113.20" height="100.20" fill="none" stroke="#3c3c3c" stroke-width="0.95"/>
<line x1="546.20" y1="113.60" x2="546.20" y2="116.20" stroke="#3c3c3c" stroke-width="0.85" />
<line x1="602.80" y1="113.60" x2="602.80" y2="116.20" stroke="#3c3c3c" stroke-width="0.85" />
<line x1="659.40" y1="113.60" x2="659.40" y2="116.20" stroke="#3c3c3c" stroke-width="0.85" />
<line x1="563.24" y1="113.60" x2="563.24" y2="115.20" stroke="#3c3c3c" stroke-width="0.7" />
<line x1="573.21" y1="113.60" x2="573.21" y2="115.20" stroke="#3c3c3c" stroke-width="0.7" />
<line x1="585.76" y1="113.60" x2="585.76" y2="115.20" stroke="#3c3c3c" stroke-width="0.7" />
<line x1="619.84" y1="113.60" x2="619.84" y2="115.20" stroke="#3c3c3c" stroke-width="0.7" />
<line x1="629.81" y1="113.60" x2="629.81" y2="115.20" stroke="#3c3c3c" stroke-width="0.7" />
<line x1="642.36" y1="113.60" x2="642.36" y2="115.20" stroke="#3c3c3c" stroke-width="0.7" />
<text x="540.007" y="128.000" font-size="11.3" fill="#2c2c2c">10</text>
<text x="550.959" y="121.200" font-size="6.5" fill="#2c2c2c">-</text>
<text x="553.129" y="121.200" font-size="6.5" fill="#2c2c2c">1</text>
<text x="598.107" y="128.000" font-size="11.3" fill="#2c2c2c">10</text>
<text x="609.152" y="121.200" font-size="6.5" fill="#2c2c2c">0</text>
<text x="654.107" y="128.000" font-size="11.3" fill="#2c2c2c">10</text>
<text x="664.829" y="121.200" font-size="6.5" fill="#2c2c2c">1</text>
<text font-size="7.4" fill="#2c2c2c" transform="matrix(1.1,0,0,1,561.220,123.500)">0.2</text>
<text font-size="7.4" fill="#2c2c2c" transform="matrix(1.1,0,0,1,571.122,123.500)">0.3</text>
<text font-size="7.4" fill="#2c2c2c" transform="matrix(1.1,0,0,1,583.678,123.500)">0.5</text>
<text font-size="7.4" fill="#2c2c2c" transform="matrix(1.1,0,0,1,620.849,123.500)">2</text>
<text font-size="7.4" fill="#2c2c2c" transform="matrix(1.1,0,0,1,630.734,123.500)">3</text>
<text font-size="7.4" fill="#2c2c2c" transform="matrix(1.1,0,0,1,643.249,123.500)">5</text>
<line x1="543.60" y1="113.40" x2="546.20" y2="113.40" stroke="#3c3c3c" stroke-width="0.85" />
<text x="536.858" y="117.000" font-size="10.7" fill="#2c2c2c">0</text>
<line x1="543.60" y1="93.64" x2="546.20" y2="93.64" stroke="#3c3c3c" stroke-width="0.85" />
<text font-size="10.7" fill="#2c2c2c" transform="matrix(1.12,0,0,1,527.481,97.240)">0.2</text>
<line x1="543.60" y1="73.88" x2="546.20" y2="73.88" stroke="#3c3c3c" stroke-width="0.85" />
<text font-size="10.7" fill="#2c2c2c" transform="matrix(1.12,0,0,1,527.007,77.480)">0.4</text>
<line x1="543.60" y1="54.12" x2="546.20" y2="54.12" stroke="#3c3c3c" stroke-width="0.85" />
<text font-size="10.7" fill="#2c2c2c" transform="matrix(1.12,0,0,1,527.177,57.720)">0.6</text>
<line x1="543.60" y1="34.36" x2="546.20" y2="34.36" stroke="#3c3c3c" stroke-width="0.85" />
<text font-size="10.7" fill="#2c2c2c" transform="matrix(1.12,0,0,1,527.276,37.960)">0.8</text>
<line x1="543.60" y1="14.60" x2="546.20" y2="14.60" stroke="#3c3c3c" stroke-width="0.85" />
<text x="537.093" y="18.200" font-size="10.7" fill="#2c2c2c">1</text>
<text font-size="10.0" font-style="italic" fill="#2c2c2c" transform="matrix(0,-1.47253,1.42031,0,522.300,67.921)">P</text>
<g transform="translate(0.00,0)" fill="none" stroke="#2c2c2c" stroke-linecap="round"><path d="M107.9,137.0 C108.5,135.0 109.6,134.4 110.6,134.4 C112.2,134.4 113.2,136.0 113.7,139.6" stroke-width="0.95"/><path d="M115.6,134.0 C114.9,135.9 114.3,137.8 113.7,139.6" stroke-width="0.8"/><path d="M113.7,139.6 C113.3,141.3 112.9,143.0 112.6,144.5" stroke-width="1.15"/></g>
<text font-size="10.0" fill="#2c2c2c" transform="matrix(0.89803,0,0,0.99681,115.905,146.600)">2</text>
<g transform="translate(170.30,0)" fill="none" stroke="#2c2c2c" stroke-linecap="round"><path d="M107.9,137.0 C108.5,135.0 109.6,134.4 110.6,134.4 C112.2,134.4 113.2,136.0 113.7,139.6" stroke-width="0.95"/><path d="M115.6,134.0 C114.9,135.9 114.3,137.8 113.7,139.6" stroke-width="0.8"/><path d="M113.7,139.6 C113.3,141.3 112.9,143.0 112.6,144.5" stroke-width="1.15"/></g>
<text font-size="10.0" fill="#2c2c2c" transform="matrix(0.89803,0,0,0.99681,285.905,146.600)">2</text>
<g transform="translate(334.00,0)" fill="none" stroke="#2c2c2c" stroke-linecap="round"><path d="M107.9,137.0 C108.5,135.0 109.6,134.4 110.6,134.4 C112.2,134.4 113.2,136.0 113.7,139.6" stroke-width="0.95"/><path d="M115.6,134.0 C114.9,135.9 114.3,137.8 113.7,139.6" stroke-width="0.8"/><path d="M113.7,139.6 C113.3,141.3 112.9,143.0 112.6,144.5" stroke-width="1.15"/></g>
<text font-size="10.0" fill="#2c2c2c" transform="matrix(0.89803,0,0,0.99681,450.105,146.600)">2</text>
<g transform="translate(486.30,0)" fill="none" stroke="#2c2c2c" stroke-linecap="round"><path d="M107.9,137.0 C108.5,135.0 109.6,134.4 110.6,134.4 C112.2,134.4 113.2,136.0 113.7,139.6" stroke-width="0.95"/><path d="M115.6,134.0 C114.9,135.9 114.3,137.8 113.7,139.6" stroke-width="0.8"/><path d="M113.7,139.6 C113.3,141.3 112.9,143.0 112.6,144.5" stroke-width="1.15"/></g>
<text font-size="10.0" fill="#2c2c2c" transform="matrix(0.89803,0,0,0.99681,602.205,146.600)">2</text>
<text font-size="10.0" fill="#2c2c2c" transform="matrix(1.62431,0,0,1.78662,101.186,168.696)">(e)</text>
<rect x="137.10" y="171.90" width="96.50" height="96.50" fill="#f4f6f7"/>
<rect x="137.40" y="172.20" width="5.83" height="5.83" fill="#2065ab"/>
<rect x="151.01" y="172.94" width="4.34" height="4.34" fill="#8ac0db"/>
<rect x="164.41" y="173.47" width="3.29" height="3.29" fill="#cae1ee"/>
<rect x="177.64" y="173.84" width="2.56" height="2.56" fill="#deebf2"/>
<rect x="190.94" y="174.27" width="1.69" height="1.69" fill="#f9f0eb"/>
<rect x="204.07" y="174.53" width="1.17" height="1.17" fill="#f8f4f2"/>
<rect x="144.58" y="179.38" width="4.34" height="4.34" fill="#8ac0db"/>
<rect x="157.52" y="179.45" width="4.19" height="4.19" fill="#96c7df"/>
<rect x="170.82" y="179.88" width="3.33" height="3.33" fill="#c7e0ed"/>
<rect x="184.10" y="180.30" width="2.50" height="2.50" fill="#e0ecf3"/>
<rect x="197.39" y="180.73" width="1.64" height="1.64" fill="#f9f0eb"/>
<rect x="210.58" y="181.05" width="1.00" height="1.00" fill="#f8f4f2"/>
<rect x="138.14" y="185.81" width="4.34" height="4.34" fill="#8ac0db"/>
<rect x="151.05" y="185.85" width="4.27" height="4.27" fill="#90c4dd"/>
<rect x="164.23" y="186.16" width="3.65" height="3.65" fill="#b6d7e8"/>
<rect x="177.41" y="186.47" width="3.02" height="3.02" fill="#d4e6f1"/>
<rect x="190.66" y="186.86" width="2.25" height="2.25" fill="#e4eef4"/>
<rect x="203.91" y="187.24" width="1.49" height="1.49" fill="#f0f4f6"/>
<rect x="217.06" y="187.53" width="0.91" height="0.91" fill="#f5f6f7"/>
<rect x="144.65" y="192.32" width="4.19" height="4.19" fill="#96c7df"/>
<rect x="157.52" y="192.32" width="4.19" height="4.19" fill="#96c7df"/>
<rect x="170.79" y="192.72" width="3.39" height="3.39" fill="#c5dfec"/>
<rect x="183.94" y="193.00" width="2.83" height="2.83" fill="#d8e9f1"/>
<rect x="197.24" y="193.44" width="1.95" height="1.95" fill="#e9f0f4"/>
<rect x="210.46" y="193.80" width="1.24" height="1.24" fill="#f2f5f6"/>
<rect x="138.67" y="199.21" width="3.29" height="3.29" fill="#cae1ee"/>
<rect x="151.36" y="199.03" width="3.65" height="3.65" fill="#b6d7e8"/>
<rect x="164.23" y="199.03" width="3.65" height="3.65" fill="#b6d7e8"/>
<rect x="177.38" y="199.32" width="3.07" height="3.07" fill="#d2e6f0"/>
<rect x="190.63" y="199.69" width="2.31" height="2.31" fill="#e3edf3"/>
<rect x="203.83" y="200.03" width="1.64" height="1.64" fill="#edf2f5"/>
<rect x="216.97" y="200.31" width="1.09" height="1.09" fill="#f3f5f6"/>
<rect x="145.08" y="205.62" width="3.33" height="3.33" fill="#c7e0ed"/>
<rect x="157.92" y="205.59" width="3.39" height="3.39" fill="#c5dfec"/>
<rect x="170.88" y="205.68" width="3.20" height="3.20" fill="#cce2ef"/>
<rect x="184.02" y="205.95" width="2.67" height="2.67" fill="#dbeaf2"/>
<rect x="197.28" y="206.35" width="1.87" height="1.87" fill="#eaf1f5"/>
<rect x="210.43" y="206.63" width="1.31" height="1.31" fill="#f2f5f6"/>
<rect x="139.04" y="212.44" width="2.56" height="2.56" fill="#deebf2"/>
<rect x="151.67" y="212.21" width="3.02" height="3.02" fill="#d4e6f1"/>
<rect x="164.52" y="212.18" width="3.07" height="3.07" fill="#d2e6f0"/>
<rect x="177.61" y="212.41" width="2.61" height="2.61" fill="#ddebf2"/>
<rect x="190.73" y="212.66" width="2.11" height="2.11" fill="#e7f0f4"/>
<rect x="203.88" y="212.95" width="1.54" height="1.54" fill="#eff3f5"/>
<rect x="217.02" y="213.22" width="1.00" height="1.00" fill="#f3f5f6"/>
<rect x="145.50" y="218.90" width="2.50" height="2.50" fill="#e0ecf3"/>
<rect x="158.20" y="218.74" width="2.83" height="2.83" fill="#d8e9f1"/>
<rect x="171.15" y="218.82" width="2.67" height="2.67" fill="#dbeaf2"/>
<rect x="184.19" y="218.99" width="2.31" height="2.31" fill="#e3edf3"/>
<rect x="197.37" y="219.30" width="1.69" height="1.69" fill="#edf2f5"/>
<rect x="210.50" y="219.57" width="1.17" height="1.17" fill="#f3f5f6"/>
<rect x="139.47" y="225.74" width="1.69" height="1.69" fill="#f9f0eb"/>
<rect x="152.06" y="225.46" width="2.25" height="2.25" fill="#e4eef4"/>
<rect x="164.89" y="225.43" width="2.31" height="2.31" fill="#e3edf3"/>
<rect x="177.86" y="225.53" width="2.11" height="2.11" fill="#e7f0f4"/>
<rect x="190.85" y="225.65" width="1.87" height="1.87" fill="#eaf1f5"/>
<rect x="203.97" y="225.90" width="1.37" height="1.37" fill="#f0f4f6"/>
<rect x="217.06" y="226.13" width="0.91" height="0.91" fill="#f5f6f7"/>
<rect x="145.93" y="232.19" width="1.64" height="1.64" fill="#f9f0eb"/>
<rect x="158.64" y="232.04" width="1.95" height="1.95" fill="#e9f0f4"/>
<rect x="171.55" y="232.08" width="1.87" height="1.87" fill="#eaf1f5"/>
<rect x="184.50" y="232.17" width="1.69" height="1.69" fill="#edf2f5"/>
<rect x="197.45" y="232.25" width="1.54" height="1.54" fill="#eff3f5"/>
<rect x="210.54" y="232.47" width="1.09" height="1.09" fill="#f3f5f6"/>
<rect x="139.73" y="238.87" width="1.17" height="1.17" fill="#f8f4f2"/>
<rect x="152.44" y="238.71" width="1.49" height="1.49" fill="#f0f4f6"/>
<rect x="165.23" y="238.63" width="1.64" height="1.64" fill="#edf2f5"/>
<rect x="178.15" y="238.68" width="1.54" height="1.54" fill="#eff3f5"/>
<rect x="191.10" y="238.77" width="1.37" height="1.37" fill="#f0f4f6"/>
<rect x="204.03" y="238.83" width="1.24" height="1.24" fill="#f2f5f6"/>
<rect x="217.12" y="239.05" width="0.80" height="0.80" fill="#f5f6f7"/>
<rect x="146.25" y="245.38" width="1.00" height="1.00" fill="#f8f4f2"/>
<rect x="159.00" y="245.26" width="1.24" height="1.24" fill="#f2f5f6"/>
<rect x="171.83" y="245.23" width="1.31" height="1.31" fill="#f2f5f6"/>
<rect x="184.77" y="245.30" width="1.17" height="1.17" fill="#f3f5f6"/>
<rect x="197.67" y="245.34" width="1.09" height="1.09" fill="#f3f5f6"/>
<rect x="210.63" y="245.43" width="0.91" height="0.91" fill="#f5f6f7"/>
<rect x="152.73" y="251.86" width="0.91" height="0.91" fill="#f5f6f7"/>
<rect x="165.51" y="251.77" width="1.09" height="1.09" fill="#f3f5f6"/>
<rect x="178.42" y="251.82" width="1.00" height="1.00" fill="#f3f5f6"/>
<rect x="191.33" y="251.86" width="0.91" height="0.91" fill="#f5f6f7"/>
<rect x="204.25" y="251.92" width="0.80" height="0.80" fill="#f5f6f7"/>
<line x1="140.32" y1="167.60" x2="140.32" y2="169.80" stroke="#555" stroke-width="0.8" />
<line x1="131.00" y1="175.12" x2="133.00" y2="175.12" stroke="#555" stroke-width="0.8" />
<text font-size="7.6" fill="#2c2c2c" transform="matrix(1.08,0,0,1,138.265,166.000)">0</text>
<text font-size="7.6" fill="#2c2c2c" transform="matrix(1.08,0,0,1,122.948,177.717)">0</text>
<line x1="146.75" y1="167.60" x2="146.75" y2="169.80" stroke="#555" stroke-width="0.8" />
<line x1="131.00" y1="181.55" x2="133.00" y2="181.55" stroke="#555" stroke-width="0.8" />
<line x1="153.18" y1="167.60" x2="153.18" y2="169.80" stroke="#555" stroke-width="0.8" />
<line x1="131.00" y1="187.98" x2="133.00" y2="187.98" stroke="#555" stroke-width="0.8" />
<text font-size="7.6" fill="#2c2c2c" transform="matrix(1.08,0,0,1,151.177,166.000)">2</text>
<text font-size="7.6" fill="#2c2c2c" transform="matrix(1.08,0,0,1,122.994,190.583)">2</text>
<line x1="159.62" y1="167.60" x2="159.62" y2="169.80" stroke="#555" stroke-width="0.8" />
<line x1="131.00" y1="194.42" x2="133.00" y2="194.42" stroke="#555" stroke-width="0.8" />
<line x1="166.05" y1="167.60" x2="166.05" y2="169.80" stroke="#555" stroke-width="0.8" />
<line x1="131.00" y1="200.85" x2="133.00" y2="200.85" stroke="#555" stroke-width="0.8" />
<text font-size="7.6" fill="#2c2c2c" transform="matrix(1.08,0,0,1,163.982,166.000)">4</text>
<text font-size="7.6" fill="#2c2c2c" transform="matrix(1.08,0,0,1,122.932,203.450)">4</text>
<line x1="172.48" y1="167.60" x2="172.48" y2="169.80" stroke="#555" stroke-width="0.8" />
<line x1="131.00" y1="207.28" x2="133.00" y2="207.28" stroke="#555" stroke-width="0.8" />
<line x1="178.92" y1="167.60" x2="178.92" y2="169.80" stroke="#555" stroke-width="0.8" />
<line x1="131.00" y1="213.72" x2="133.00" y2="213.72" stroke="#555" stroke-width="0.8" />
<text font-size="7.6" fill="#2c2c2c" transform="matrix(1.08,0,0,1,176.811,166.000)">6</text>
<text font-size="7.6" fill="#2c2c2c" transform="matrix(1.08,0,0,1,122.894,216.317)">6</text>
<line x1="185.35" y1="167.60" x2="185.35" y2="169.80" stroke="#555" stroke-width="0.8" />
<line x1="131.00" y1="220.15" x2="133.00" y2="220.15" stroke="#555" stroke-width="0.8" />
<line x1="191.78" y1="167.60" x2="191.78" y2="169.80" stroke="#555" stroke-width="0.8" />
<line x1="131.00" y1="226.58" x2="133.00" y2="226.58" stroke="#555" stroke-width="0.8" />
<text font-size="7.6" fill="#2c2c2c" transform="matrix(1.08,0,0,1,189.731,166.000)">8</text>
<text font-size="7.6" fill="#2c2c2c" transform="matrix(1.08,0,0,1,122.948,229.183)">8</text>
<line x1="198.22" y1="167.60" x2="198.22" y2="169.80" stroke="#555" stroke-width="0.8" />
<line x1="131.00" y1="233.02" x2="133.00" y2="233.02" stroke="#555" stroke-width="0.8" />
<line x1="204.65" y1="167.60" x2="204.65" y2="169.80" stroke="#555" stroke-width="0.8" />
<line x1="131.00" y1="239.45" x2="133.00" y2="239.45" stroke="#555" stroke-width="0.8" />
<text font-size="7.6" fill="#2c2c2c" transform="matrix(1.08,0,0,1,200.342,166.000)">10</text>
<text font-size="7.6" fill="#2c2c2c" transform="matrix(1.08,0,0,1,120.692,242.050)">10</text>
<line x1="211.08" y1="167.60" x2="211.08" y2="169.80" stroke="#555" stroke-width="0.8" />
<line x1="131.00" y1="245.88" x2="133.00" y2="245.88" stroke="#555" stroke-width="0.8" />
<line x1="217.52" y1="167.60" x2="217.52" y2="169.80" stroke="#555" stroke-width="0.8" />
<line x1="131.00" y1="252.32" x2="133.00" y2="252.32" stroke="#555" stroke-width="0.8" />
<text font-size="7.6" fill="#2c2c2c" transform="matrix(1.08,0,0,1,213.278,166.000)">12</text>
<text font-size="7.6" fill="#2c2c2c" transform="matrix(1.08,0,0,1,120.762,254.917)">12</text>
<line x1="223.95" y1="167.60" x2="223.95" y2="169.80" stroke="#555" stroke-width="0.8" />
<line x1="131.00" y1="258.75" x2="133.00" y2="258.75" stroke="#555" stroke-width="0.8" />
<line x1="230.38" y1="167.60" x2="230.38" y2="169.80" stroke="#555" stroke-width="0.8" />
<line x1="131.00" y1="265.18" x2="133.00" y2="265.18" stroke="#555" stroke-width="0.8" />
<text font-size="7.6" fill="#2c2c2c" transform="matrix(1.08,0,0,1,225.983,166.000)">14</text>
<text font-size="7.6" fill="#2c2c2c" transform="matrix(1.08,0,0,1,120.599,267.783)">14</text>
<defs><linearGradient id="g137" x1="0" y1="1" x2="0" y2="0"><stop offset="0.000" stop-color="#67001f"/><stop offset="0.031" stop-color="#7f0823"/><stop offset="0.062" stop-color="#960f27"/><stop offset="0.094" stop-color="#ae172a"/><stop offset="0.125" stop-color="#bb2a34"/><stop offset="0.156" stop-color="#c6413e"/><stop offset="0.188" stop-color="#d25849"/><stop offset="0.219" stop-color="#dc6e57"/><stop offset="0.250" stop-color="#e58368"/><stop offset="0.281" stop-color="#ef9979"/><stop offset="0.312" stop-color="#f5ac8b"/><stop offset="0.344" stop-color="#f8bda1"/><stop offset="0.375" stop-color="#fbceb7"/><stop offset="0.406" stop-color="#fdddcb"/><stop offset="0.438" stop-color="#fbe6da"/><stop offset="0.469" stop-color="#f9efe9"/><stop offset="0.500" stop-color="#f6f7f7"/><stop offset="0.531" stop-color="#eaf1f5"/><stop offset="0.562" stop-color="#deebf2"/><stop offset="0.594" stop-color="#d2e6f0"/><stop offset="0.625" stop-color="#c0dceb"/><stop offset="0.656" stop-color="#acd2e5"/><stop offset="0.688" stop-color="#98c8e0"/><stop offset="0.719" stop-color="#81bad8"/><stop offset="0.750" stop-color="#68abd0"/><stop offset="0.781" stop-color="#4f9bc7"/><stop offset="0.812" stop-color="#3e8cbf"/><stop offset="0.844" stop-color="#337eb8"/><stop offset="0.875" stop-color="#2870b1"/><stop offset="0.906" stop-color="#1e61a5"/><stop offset="0.938" stop-color="#15508d"/><stop offset="0.969" stop-color="#0d3f76"/><stop offset="1.000" stop-color="#053061"/></linearGradient></defs>
<rect x="240.10" y="168.00" width="5.9" height="104.40" fill="url(#g137)" stroke="#222" stroke-opacity="0.55" stroke-width="0.6"/>
<line x1="246.00" y1="169.85" x2="248.80" y2="169.85" stroke="#333" stroke-width="0.8" />
<text font-size="7.7" fill="#2c2c2c" transform="matrix(1.15,0,0,1,250.863,172.546)">0.3</text>
<line x1="246.00" y1="186.63" x2="248.80" y2="186.63" stroke="#333" stroke-width="0.8" />
<text font-size="7.7" fill="#2c2c2c" transform="matrix(1.15,0,0,1,250.863,189.331)">0.2</text>
<line x1="246.00" y1="203.42" x2="248.80" y2="203.42" stroke="#333" stroke-width="0.8" />
<text font-size="7.7" fill="#2c2c2c" transform="matrix(1.15,0,0,1,250.863,206.115)">0.1</text>
<line x1="246.00" y1="220.20" x2="248.80" y2="220.20" stroke="#333" stroke-width="0.8" />
<text font-size="7.7" fill="#2c2c2c" transform="matrix(1.15,0,0,1,250.863,222.900)">0</text>
<line x1="246.00" y1="236.98" x2="248.80" y2="236.98" stroke="#333" stroke-width="0.8" />
<text font-size="7.7" fill="#2c2c2c" transform="matrix(1.15,0,0,1,253.863,239.685)">0.1</text>
<line x1="251.20" y1="237.18" x2="253.50" y2="237.18" stroke="#2c2c2c" stroke-width="0.75" />
<line x1="246.00" y1="253.77" x2="248.80" y2="253.77" stroke="#333" stroke-width="0.8" />
<text font-size="7.7" fill="#2c2c2c" transform="matrix(1.15,0,0,1,253.863,256.469)">0.2</text>
<line x1="251.20" y1="253.97" x2="253.50" y2="253.97" stroke="#2c2c2c" stroke-width="0.75" />
<line x1="246.00" y1="270.55" x2="248.80" y2="270.55" stroke="#333" stroke-width="0.8" />
<text font-size="7.7" fill="#2c2c2c" transform="matrix(1.15,0,0,1,253.863,273.254)">0.3</text>
<line x1="251.20" y1="270.75" x2="253.50" y2="270.75" stroke="#2c2c2c" stroke-width="0.75" />
<text font-size="10.0" fill="#2c2c2c" transform="matrix(1.53655,0,0,1.76665,273.625,168.739)">(f)</text>
<rect x="312.10" y="174.50" width="97.00" height="97.00" fill="#f4f6f7"/>
<rect x="312.78" y="175.18" width="12.50" height="12.50" fill="#2267ac"/>
<rect x="343.07" y="177.76" width="7.34" height="7.34" fill="#c2ddec"/>
<rect x="372.98" y="179.96" width="2.95" height="2.95" fill="#f0f4f6"/>
<rect x="329.90" y="192.30" width="5.97" height="5.97" fill="#dae9f2"/>
<rect x="358.89" y="193.57" width="3.43" height="3.43" fill="#eff3f5"/>
<rect x="315.36" y="205.47" width="7.34" height="7.34" fill="#c2ddec"/>
<rect x="344.40" y="206.80" width="4.68" height="4.68" fill="#e6eff4"/>
<rect x="373.40" y="208.08" width="2.12" height="2.12" fill="#f5f6f7"/>
<rect x="331.17" y="221.29" width="3.43" height="3.43" fill="#eff3f5"/>
<rect x="359.62" y="222.02" width="1.95" height="1.95" fill="#f5f6f7"/>
<rect x="317.56" y="235.38" width="2.95" height="2.95" fill="#f0f4f6"/>
<rect x="345.68" y="235.80" width="2.12" height="2.12" fill="#f5f6f7"/>
<line x1="319.03" y1="170.10" x2="319.03" y2="171.60" stroke="#555" stroke-width="0.8" />
<line x1="305.50" y1="181.43" x2="307.50" y2="181.43" stroke="#555" stroke-width="0.8" />
<text font-size="7.6" fill="#2c2c2c" transform="matrix(1.08,0,0,1,316.977,166.900)">0</text>
<text font-size="7.6" fill="#2c2c2c" transform="matrix(1.08,0,0,1,295.948,184.029)">0</text>
<line x1="332.89" y1="170.10" x2="332.89" y2="171.60" stroke="#555" stroke-width="0.8" />
<line x1="305.50" y1="195.29" x2="307.50" y2="195.29" stroke="#555" stroke-width="0.8" />
<text font-size="7.6" fill="#2c2c2c" transform="matrix(1.08,0,0,1,330.719,166.900)">1</text>
<text font-size="7.6" fill="#2c2c2c" transform="matrix(1.08,0,0,1,295.834,197.886)">1</text>
<line x1="346.74" y1="170.10" x2="346.74" y2="171.60" stroke="#555" stroke-width="0.8" />
<line x1="305.50" y1="209.14" x2="307.50" y2="209.14" stroke="#555" stroke-width="0.8" />
<text font-size="7.6" fill="#2c2c2c" transform="matrix(1.08,0,0,1,344.737,166.900)">2</text>
<text font-size="7.6" fill="#2c2c2c" transform="matrix(1.08,0,0,1,295.994,211.743)">2</text>
<line x1="360.60" y1="170.10" x2="360.60" y2="171.60" stroke="#555" stroke-width="0.8" />
<line x1="305.50" y1="223.00" x2="307.50" y2="223.00" stroke="#555" stroke-width="0.8" />
<text font-size="7.6" fill="#2c2c2c" transform="matrix(1.08,0,0,1,358.512,166.900)">3</text>
<text font-size="7.6" fill="#2c2c2c" transform="matrix(1.08,0,0,1,295.912,225.600)">3</text>
<line x1="374.46" y1="170.10" x2="374.46" y2="171.60" stroke="#555" stroke-width="0.8" />
<line x1="305.50" y1="236.86" x2="307.50" y2="236.86" stroke="#555" stroke-width="0.8" />
<text font-size="7.6" fill="#2c2c2c" transform="matrix(1.08,0,0,1,372.389,166.900)">4</text>
<text font-size="7.6" fill="#2c2c2c" transform="matrix(1.08,0,0,1,295.932,239.457)">4</text>
<line x1="388.31" y1="170.10" x2="388.31" y2="171.60" stroke="#555" stroke-width="0.8" />
<line x1="305.50" y1="250.71" x2="307.50" y2="250.71" stroke="#555" stroke-width="0.8" />
<text font-size="7.6" fill="#2c2c2c" transform="matrix(1.08,0,0,1,386.184,166.900)">5</text>
<text font-size="7.6" fill="#2c2c2c" transform="matrix(1.08,0,0,1,295.870,253.314)">5</text>
<line x1="402.17" y1="170.10" x2="402.17" y2="171.60" stroke="#555" stroke-width="0.8" />
<line x1="305.50" y1="264.57" x2="307.50" y2="264.57" stroke="#555" stroke-width="0.8" />
<text font-size="7.6" fill="#2c2c2c" transform="matrix(1.08,0,0,1,400.065,166.900)">6</text>
<text font-size="7.6" fill="#2c2c2c" transform="matrix(1.08,0,0,1,295.894,267.171)">6</text>
<defs><linearGradient id="g312" x1="0" y1="1" x2="0" y2="0"><stop offset="0.000" stop-color="#67001f"/><stop offset="0.031" stop-color="#7f0823"/><stop offset="0.062" stop-color="#960f27"/><stop offset="0.094" stop-color="#ae172a"/><stop offset="0.125" stop-color="#bb2a34"/><stop offset="0.156" stop-color="#c6413e"/><stop offset="0.188" stop-color="#d25849"/><stop offset="0.219" stop-color="#dc6e57"/><stop offset="0.250" stop-color="#e58368"/><stop offset="0.281" stop-color="#ef9979"/><stop offset="0.312" stop-color="#f5ac8b"/><stop offset="0.344" stop-color="#f8bda1"/><stop offset="0.375" stop-color="#fbceb7"/><stop offset="0.406" stop-color="#fdddcb"/><stop offset="0.438" stop-color="#fbe6da"/><stop offset="0.469" stop-color="#f9efe9"/><stop offset="0.500" stop-color="#f6f7f7"/><stop offset="0.531" stop-color="#eaf1f5"/><stop offset="0.562" stop-color="#deebf2"/><stop offset="0.594" stop-color="#d2e6f0"/><stop offset="0.625" stop-color="#c0dceb"/><stop offset="0.656" stop-color="#acd2e5"/><stop offset="0.688" stop-color="#98c8e0"/><stop offset="0.719" stop-color="#81bad8"/><stop offset="0.750" stop-color="#68abd0"/><stop offset="0.781" stop-color="#4f9bc7"/><stop offset="0.812" stop-color="#3e8cbf"/><stop offset="0.844" stop-color="#337eb8"/><stop offset="0.875" stop-color="#2870b1"/><stop offset="0.906" stop-color="#1e61a5"/><stop offset="0.938" stop-color="#15508d"/><stop offset="0.969" stop-color="#0d3f76"/><stop offset="1.000" stop-color="#053061"/></linearGradient></defs>
<rect x="415.10" y="171.30" width="5.9" height="103.20" fill="url(#g312)" stroke="#222" stroke-opacity="0.55" stroke-width="0.6"/>
<line x1="421.00" y1="183.21" x2="423.80" y2="183.21" stroke="#333" stroke-width="0.8" />
<text font-size="7.7" fill="#2c2c2c" transform="matrix(1.15,0,0,1,425.363,185.908)">0.6</text>
<line x1="421.00" y1="196.44" x2="423.80" y2="196.44" stroke="#333" stroke-width="0.8" />
<text font-size="7.7" fill="#2c2c2c" transform="matrix(1.15,0,0,1,425.363,199.138)">0.4</text>
<line x1="421.00" y1="209.67" x2="423.80" y2="209.67" stroke="#333" stroke-width="0.8" />
<text font-size="7.7" fill="#2c2c2c" transform="matrix(1.15,0,0,1,425.363,212.369)">0.2</text>
<line x1="421.00" y1="222.90" x2="423.80" y2="222.90" stroke="#333" stroke-width="0.8" />
<text font-size="7.7" fill="#2c2c2c" transform="matrix(1.15,0,0,1,425.363,225.600)">0</text>
<line x1="421.00" y1="236.13" x2="423.80" y2="236.13" stroke="#333" stroke-width="0.8" />
<text font-size="7.7" fill="#2c2c2c" transform="matrix(1.15,0,0,1,428.363,238.831)">0.2</text>
<line x1="425.70" y1="236.33" x2="428.00" y2="236.33" stroke="#2c2c2c" stroke-width="0.75" />
<line x1="421.00" y1="249.36" x2="423.80" y2="249.36" stroke="#333" stroke-width="0.8" />
<text font-size="7.7" fill="#2c2c2c" transform="matrix(1.15,0,0,1,428.363,252.062)">0.4</text>
<line x1="425.70" y1="249.56" x2="428.00" y2="249.56" stroke="#2c2c2c" stroke-width="0.75" />
<line x1="421.00" y1="262.59" x2="423.80" y2="262.59" stroke="#333" stroke-width="0.8" />
<text font-size="7.7" fill="#2c2c2c" transform="matrix(1.15,0,0,1,428.363,265.292)">0.6</text>
<line x1="425.70" y1="262.79" x2="428.00" y2="262.79" stroke="#2c2c2c" stroke-width="0.75" />
<text font-size="10.0" fill="#2c2c2c" transform="matrix(1.50261,0,0,1.78087,449.040,168.657)">(g)</text>
<rect x="483.40" y="174.50" width="96.50" height="96.50" fill="#f4f6f7"/>
<rect x="484.29" y="175.39" width="17.52" height="17.52" fill="#1f63a8"/>
<rect x="529.12" y="181.62" width="5.06" height="5.06" fill="#edf2f5"/>
<rect x="490.52" y="220.22" width="5.06" height="5.06" fill="#edf2f5"/>
<line x1="493.05" y1="169.20" x2="493.05" y2="170.90" stroke="#555" stroke-width="0.8" />
<line x1="475.40" y1="184.15" x2="477.60" y2="184.15" stroke="#555" stroke-width="0.8" />
<text font-size="7.6" fill="#2c2c2c" transform="matrix(1.08,0,0,1,490.998,166.500)">0</text>
<text font-size="7.6" fill="#2c2c2c" transform="matrix(1.08,0,0,1,468.948,186.750)">0</text>
<line x1="512.35" y1="169.20" x2="512.35" y2="170.90" stroke="#555" stroke-width="0.8" />
<line x1="475.40" y1="203.45" x2="477.60" y2="203.45" stroke="#555" stroke-width="0.8" />
<text font-size="7.6" fill="#2c2c2c" transform="matrix(1.08,0,0,1,510.184,166.500)">1</text>
<text font-size="7.6" fill="#2c2c2c" transform="matrix(1.08,0,0,1,468.834,206.050)">1</text>
<line x1="531.65" y1="169.20" x2="531.65" y2="170.90" stroke="#555" stroke-width="0.8" />
<line x1="475.40" y1="222.75" x2="477.60" y2="222.75" stroke="#555" stroke-width="0.8" />
<text font-size="7.6" fill="#2c2c2c" transform="matrix(1.08,0,0,1,529.644,166.500)">2</text>
<text font-size="7.6" fill="#2c2c2c" transform="matrix(1.08,0,0,1,468.994,225.350)">2</text>
<line x1="550.95" y1="169.20" x2="550.95" y2="170.90" stroke="#555" stroke-width="0.8" />
<line x1="475.40" y1="242.05" x2="477.60" y2="242.05" stroke="#555" stroke-width="0.8" />
<text font-size="7.6" fill="#2c2c2c" transform="matrix(1.08,0,0,1,548.862,166.500)">3</text>
<text font-size="7.6" fill="#2c2c2c" transform="matrix(1.08,0,0,1,468.912,244.650)">3</text>
<line x1="570.25" y1="169.20" x2="570.25" y2="170.90" stroke="#555" stroke-width="0.8" />
<line x1="475.40" y1="261.35" x2="477.60" y2="261.35" stroke="#555" stroke-width="0.8" />
<text font-size="7.6" fill="#2c2c2c" transform="matrix(1.08,0,0,1,568.182,166.500)">4</text>
<text font-size="7.6" fill="#2c2c2c" transform="matrix(1.08,0,0,1,468.932,263.950)">4</text>
<defs><linearGradient id="g483" x1="0" y1="1" x2="0" y2="0"><stop offset="0.000" stop-color="#67001f"/><stop offset="0.031" stop-color="#7f0823"/><stop offset="0.062" stop-color="#960f27"/><stop offset="0.094" stop-color="#ae172a"/><stop offset="0.125" stop-color="#bb2a34"/><stop offset="0.156" stop-color="#c6413e"/><stop offset="0.188" stop-color="#d25849"/><stop offset="0.219" stop-color="#dc6e57"/><stop offset="0.250" stop-color="#e58368"/><stop offset="0.281" stop-color="#ef9979"/><stop offset="0.312" stop-color="#f5ac8b"/><stop offset="0.344" stop-color="#f8bda1"/><stop offset="0.375" stop-color="#fbceb7"/><stop offset="0.406" stop-color="#fdddcb"/><stop offset="0.438" stop-color="#fbe6da"/><stop offset="0.469" stop-color="#f9efe9"/><stop offset="0.500" stop-color="#f6f7f7"/><stop offset="0.531" stop-color="#eaf1f5"/><stop offset="0.562" stop-color="#deebf2"/><stop offset="0.594" stop-color="#d2e6f0"/><stop offset="0.625" stop-color="#c0dceb"/><stop offset="0.656" stop-color="#acd2e5"/><stop offset="0.688" stop-color="#98c8e0"/><stop offset="0.719" stop-color="#81bad8"/><stop offset="0.750" stop-color="#68abd0"/><stop offset="0.781" stop-color="#4f9bc7"/><stop offset="0.812" stop-color="#3e8cbf"/><stop offset="0.844" stop-color="#337eb8"/><stop offset="0.875" stop-color="#2870b1"/><stop offset="0.906" stop-color="#1e61a5"/><stop offset="0.938" stop-color="#15508d"/><stop offset="0.969" stop-color="#0d3f76"/><stop offset="1.000" stop-color="#053061"/></linearGradient></defs>
<rect x="585.90" y="170.60" width="5.9" height="103.20" fill="url(#g483)" stroke="#222" stroke-opacity="0.55" stroke-width="0.6"/>
<line x1="591.80" y1="182.71" x2="594.60" y2="182.71" stroke="#333" stroke-width="0.8" />
<text font-size="7.7" fill="#2c2c2c" transform="matrix(1.15,0,0,1,597.463,185.410)">0.75</text>
<line x1="591.80" y1="195.87" x2="594.60" y2="195.87" stroke="#333" stroke-width="0.8" />
<text font-size="7.7" fill="#2c2c2c" transform="matrix(1.15,0,0,1,597.463,198.573)">0.5</text>
<line x1="591.80" y1="209.04" x2="594.60" y2="209.04" stroke="#333" stroke-width="0.8" />
<text font-size="7.7" fill="#2c2c2c" transform="matrix(1.15,0,0,1,597.463,211.737)">0.25</text>
<line x1="591.80" y1="222.20" x2="594.60" y2="222.20" stroke="#333" stroke-width="0.8" />
<text font-size="7.7" fill="#2c2c2c" transform="matrix(1.15,0,0,1,597.463,224.900)">0</text>
<line x1="591.80" y1="235.36" x2="594.60" y2="235.36" stroke="#333" stroke-width="0.8" />
<text font-size="7.7" fill="#2c2c2c" transform="matrix(1.15,0,0,1,600.463,238.063)">0.25</text>
<line x1="597.80" y1="235.56" x2="600.10" y2="235.56" stroke="#2c2c2c" stroke-width="0.75" />
<line x1="591.80" y1="248.53" x2="594.60" y2="248.53" stroke="#333" stroke-width="0.8" />
<text font-size="7.7" fill="#2c2c2c" transform="matrix(1.15,0,0,1,600.463,251.227)">0.5</text>
<line x1="597.80" y1="248.73" x2="600.10" y2="248.73" stroke="#2c2c2c" stroke-width="0.75" />
<line x1="591.80" y1="261.69" x2="594.60" y2="261.69" stroke="#333" stroke-width="0.8" />
<text font-size="7.7" fill="#2c2c2c" transform="matrix(1.15,0,0,1,600.463,264.390)">0.75</text>
<line x1="597.80" y1="261.89" x2="600.10" y2="261.89" stroke="#2c2c2c" stroke-width="0.75" />
</svg></body></html>
